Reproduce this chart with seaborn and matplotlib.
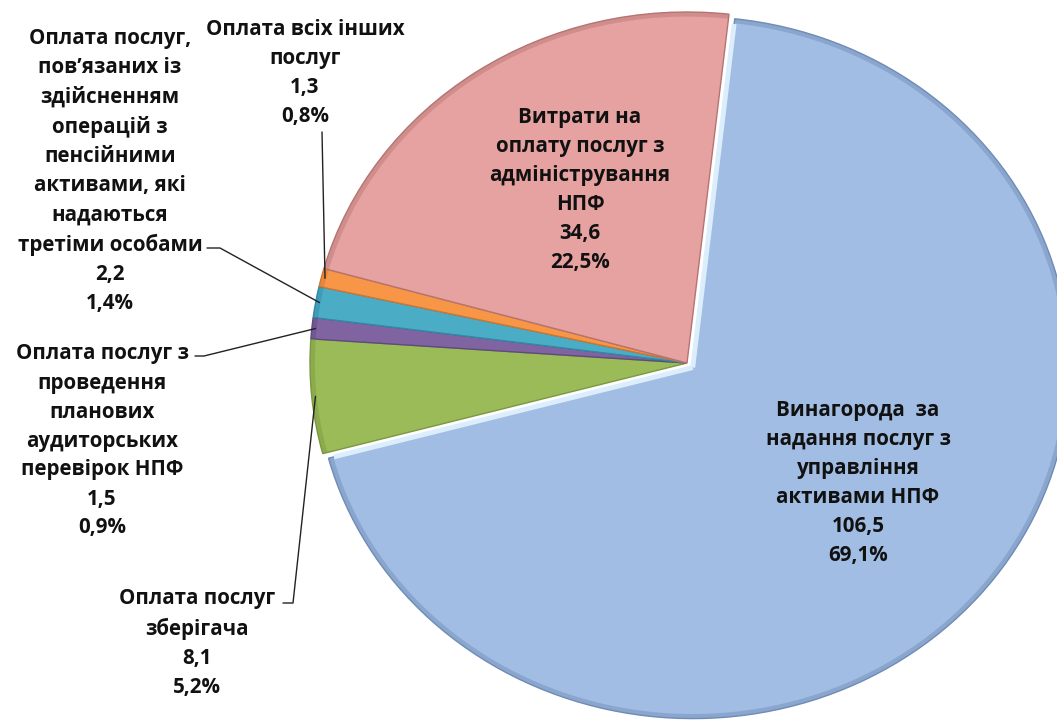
import numpy as np
import matplotlib
matplotlib.use("Agg")
import matplotlib.pyplot as plt
import seaborn as sns

# slice data, in drawing order (clockwise from the top)
names = [
    "Винагорода  за\nнадання послуг з\nуправління\nактивами НПФ",
    "Оплата послуг\nзберігача",
    "Оплата послуг з\nпроведення\nпланових\nаудиторських\nперевірок НПФ",
    "Оплата послуг,\nпов’язаних із\nздійсненням\nоперацій з\nпенсійними\nактивами, які\nнадаються\nтретіми особами",
    "Оплата всіх інших\nпослуг",
    "Витрати на\nоплату послуг з\nадміністрування\nНПФ",
]
amounts = [106.5, 8.1, 1.5, 2.2, 1.3, 34.6]
shares = ["69,1%", "5,2%", "0,9%", "1,4%", "0,8%", "22,5%"]
amount_labels = ["106,5", "8,1", "1,5", "2,2", "1,3", "34,6"]

colors = ["#A1BDE3", "#9BBB59", "#8064A2", "#4BACC6", "#F79646", "#E6A2A0"]
edges = ["#6F8CB5", "#7A9840", "#5F4A80", "#2F8AA5", "#D27530", "#B57472"]

sns.set_theme(style="white")
plt.rcParams["font.family"] = ["Open Sans", "DejaVu Sans"]

W, H = 1057, 720
fig = plt.figure(figsize=(W / 100, H / 100), dpi=100)
ax = fig.add_axes([0, 0, 1, 1])

explode = [0.02, 0, 0, 0, 0, 0]
pie_kw = dict(startangle=83.6, counterclock=False, explode=explode)
wedges, _ = ax.pie(amounts, colors=colors, wedgeprops=dict(linewidth=1.0), **pie_kw)
for w, ec in zip(wedges, edges):
    w.set_edgecolor(ec)

# darker rim to hint at the bevel of the original
rim, _ = ax.pie(amounts, colors=edges, wedgeprops=dict(width=0.013, linewidth=0, alpha=0.45),
                **pie_kw)

# light bevel on the straight sides of the exploded slice
bw = wedges[0]
bcx, bcy = bw.center
for th in (bw.theta1, bw.theta2):
    a = np.deg2rad(th)
    ax.plot([bcx, bcx + 0.985 * np.cos(a)], [bcy, bcy + 0.985 * np.sin(a)],
            color="#DCEEFC", lw=3.5, solid_capstyle="butt")

# ellipse-shaped pie as in the original picture
rx, ry = 377, 351
cx0, cy0 = 687, 363
xmin, xmax = -cx0 / rx, (W - cx0) / rx
ymin, ymax = -(H - cy0) / ry, cy0 / ry
ax.set_aspect("auto")
ax.set_xlim(xmin, xmax)
ax.set_ylim(ymin, ymax)
ax.axis("off")


def px(x, y):
    return xmin + x / W * (xmax - xmin), ymax - y / H * (ymax - ymin)


def edge_point(w, r=1.0):
    a = np.deg2rad((w.theta1 + w.theta2) / 2)
    cx, cy = w.center
    return cx + r * np.cos(a), cy + r * np.sin(a)


txt = dict(ha="center", va="center", fontsize=14.8, fontweight="bold",
           color="#111111", linespacing=1.5)

# label centres (pixels) for each slice
label_pos = [(858, 483), (197, 643), (102, 441), (110, 171), (305, 73), (580, 190)]
for i, (x, y) in enumerate(label_pos):
    s = f"{names[i]}\n{amount_labels[i]}\n{shares[i]}"
    ax.text(*px(x, y), s, **txt)

# leader lines for the small slices: elbow points in pixels
elbows = {
    1: [(283, 603), (293, 603)],
    2: [(195, 356), (204, 356)],
    3: [(207, 248), (220, 248)],
    4: [(322, 132)],
}
for i, pts in elbows.items():
    xs = [px(*p)[0] for p in pts]
    ys = [px(*p)[1] for p in pts]
    ex, ey = edge_point(wedges[i], 0.99)
    ax.plot(xs + [ex], ys + [ey], color="#222222", lw=1.0)

fig.savefig("out.png", dpi=100)
